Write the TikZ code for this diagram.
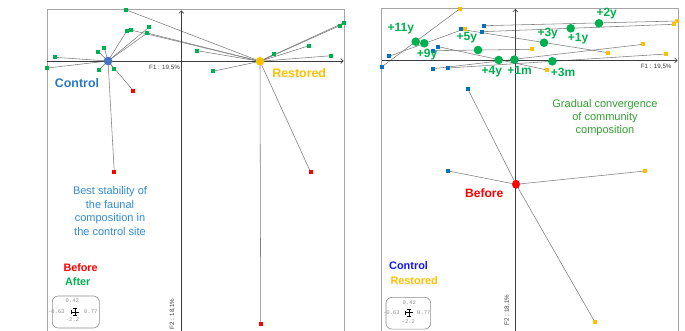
\documentclass[tikz,border=0pt]{standalone}
\usepackage{fontspec}
\setmainfont{Liberation Sans}
\newfontfamily\monofont{Liberation Mono}
\usetikzlibrary{arrows.meta,backgrounds,shapes.geometric}
\definecolor{cgreen}{RGB}{0,176,80}
\definecolor{cred}{RGB}{255,0,0}
\definecolor{cblue}{RGB}{0,112,192}
\definecolor{cyellow}{RGB}{255,192,0}
\definecolor{cctrl}{RGB}{68,114,196}
\definecolor{cctrllab}{RGB}{42,120,200}
\definecolor{cbest}{RGB}{50,140,210}
\definecolor{cgrad}{RGB}{50,160,50}
\definecolor{cpure}{RGB}{20,20,255}
\definecolor{clink}{RGB}{125,125,125}
\definecolor{caxis}{RGB}{60,60,60}
\definecolor{cframe}{RGB}{165,165,165}
\definecolor{cnum}{RGB}{140,140,140}
\begin{document}
\begin{tikzpicture}[x=1pt,y=-1pt,
  sq/.style={rectangle,inner sep=0pt,minimum size=4pt},
  gsq/.style={sq,fill=cgreen},
  rsq/.style={sq,fill=cred},
  bsq/.style={sq,fill=cblue},
  ysq/.style={sq,fill=cyellow},
  gdot/.style={circle,inner sep=0pt,minimum size=8.6pt,fill=cgreen},
  bigdot/.style={circle,inner sep=0pt,minimum size=8.6pt},
  link/.style={draw=clink,line width=0.55pt},
  axisline/.style={draw=caxis,line width=0.8pt},
  axisarrow/.style={axisline,-{Straight Barb[length=2.5pt,width=5pt,line width=0.6pt]}},
  framebox/.style={draw=cframe,line width=0.8pt},
  glab/.style={font=\fontsize{12}{12}\selectfont\bfseries,text=cgreen,inner sep=0pt},
  axlab/.style={font=\fontsize{6.2}{6.2}\selectfont,text=caxis,inner sep=0pt},
  boxnum/.style={font=\monofont\fontsize{5.5}{5.5}\selectfont,text=cnum,inner sep=0pt},
  scalebox/.style={draw=cnum,rounded corners=6pt,line width=0.6pt,inner sep=0pt},
  crossline/.style={draw=black,line width=0.7pt},
  legend/.style={font=\fontsize{10.9}{10.9}\selectfont\bfseries,inner sep=0pt,anchor=west},
]
\useasboundingbox (0,0) rectangle (685,331);
\begin{scope}[on background layer]
  \fill[white] (0,0) rectangle (685,331);
\end{scope}

% frames
\draw[framebox] (47.3,331) -- (47.3,9.7) -- (344.3,9.7) -- (344.3,331);
\draw[framebox] (381.7,331) -- (381.7,8.3) -- (678.3,8.3) -- (678.3,331);

% axes
\coordinate (LaxW) at (47.3,61);
\coordinate (LaxE) at (343.5,61);
\coordinate (LaxS) at (181.3,331);
\coordinate (LaxN) at (181.3,10.5);
\coordinate (RaxW) at (381.7,60.3);
\coordinate (RaxE) at (677.5,60.3);
\coordinate (RaxS) at (515.3,331);
\coordinate (RaxN) at (515.3,9);
\draw[axisarrow] (LaxW) -- (LaxE);
\draw[axisarrow] (LaxS) -- (LaxN);
\draw[axisarrow] (RaxW) -- (RaxE);
\draw[axisarrow] (RaxS) -- (RaxN);

% ===== left panel =====
\node[bigdot,fill=cctrl] (ctrl) at (108,61) {};
\node[bigdot,fill=cyellow] (rest) at (260,61.3) {};
\node[gsq] (c1) at (126.7,31) {};
\node[gsq] (c2) at (149.3,27) {};
\node[gsq] (c3) at (147.3,33) {};
\node[gsq] (c4) at (104.3,47.7) {};
\node[gsq] (c5) at (98.3,51.7) {};
\node[gsq] (c6) at (55,57.3) {};
\node[gsq] (c7) at (47.3,68) {};
\node[gsq] (c8) at (99,69.7) {};
\node[gsq] (c9) at (114,69) {};
\node[rsq] (cb1) at (133.3,90.7) {};
\node[rsq] (cb2) at (114.3,172.3) {};
\node[gsq] (r1) at (125.7,9.7) {};
\node[gsq] (r2) at (130.7,30) {};
\node[gsq] (r4) at (197.3,50.7) {};
\node[gsq] (r5) at (212.7,71.3) {};
\node[gsq] (r6) at (274,54.3) {};
\node[gsq] (r7) at (309,45.7) {};
\node[gsq] (r8) at (331.3,55.7) {};
\node[gsq] (r9) at (339.7,25.7) {};
\node[gsq] (r10) at (343.7,22.7) {};
\node[rsq] (rb1) at (310.7,172.3) {};
\node[rsq] (rb2) at (260.7,323.7) {};

\begin{scope}[on background layer]
  \foreach \p in {c1,c2,c3,c4,c5,c6,c7,c8,c9,cb1,cb2}
    \draw[link] (ctrl.center) -- (\p.center);
  \foreach \p in {r1,r2,c3,r4,r5,r6,r7,r8,r9,r10,rb1,rb2}
    \draw[link] (rest.center) -- (\p.center);
\end{scope}

\node[font=\fontsize{12.4}{12.4}\selectfont\bfseries,text=cctrllab,inner sep=0pt] (lctrl) at (77,82.7) {Control};
\node[font=\fontsize{12.4}{12.4}\selectfont\bfseries,text=cyellow,inner sep=0pt] (lrest) at (299.2,73.3) {Restored};
\node[axlab,anchor=east] (lf1) at (180,67.7) {F1 : 19,5\%};
\node[axlab,rotate=90] (lf2) at (172.3,314) {F2 : 18,1\%};
\node[align=center,font=\fontsize{11}{13.5}\selectfont,text=cbest,inner sep=0pt] (lbest) at (110,211)
  {Best stability of\\the faunal\\composition in\\the control site};
\node[legend,text=cred,font=\fontsize{10.8}{10.8}\selectfont\bfseries] (lbefore) at (63.3,268) {Before};
\node[legend,text=cgreen,font=\fontsize{10.8}{10.8}\selectfont\bfseries] (lafter) at (65,281.3) {After};

\node[scalebox,minimum width=47pt,minimum height=32pt] (sbL) at (75.8,312) {};
\node[boxnum] (sbLt) at (72.3,301) {0.42};
\node[boxnum] (sbLl) at (56.3,312) {-0.63};
\node[boxnum] (sbLr) at (90.8,312) {0.77};
\node[boxnum] (sbLb) at (72.5,320) {-2.2};
\coordinate (crL) at (75,312);
\draw[crossline] ([xshift=-4pt]crL) -- ([xshift=4pt]crL);
\draw[crossline] ([yshift=3.7pt]crL) -- ([yshift=-3.7pt]crL);
\draw[crossline] ([xshift=-4pt,yshift=-1.8pt]crL) -- ([xshift=-4pt,yshift=1.8pt]crL);
\draw[crossline] ([xshift=-1.8pt,yshift=3.7pt]crL) -- ([xshift=1.8pt,yshift=3.7pt]crL);
\draw[crossline] ([xshift=-1.8pt,yshift=-3.7pt]crL) -- ([xshift=1.8pt,yshift=-3.7pt]crL);

% ===== right panel =====
\node[bsq] (b11) at (382,66.7) {};
\node[bsq] (b9) at (389,56.3) {};
\node[bsq] (b3y) at (460.7,29.3) {};
\node[bsq] (b2y) at (483.7,25.7) {};
\node[bsq] (b1y) at (482,31.7) {};
\node[bsq] (b4y) at (438.3,46.7) {};
\node[bsq] (b5y) at (432.7,50.7) {};
\node[bsq] (b1m) at (433.3,68.7) {};
\node[bsq] (b3m) at (448,68) {};
\node[bsq] (bbef1) at (468,89.3) {};
\node[bsq] (bbef2) at (448.3,171) {};
\node[ysq] (y11) at (460,8.6) {};
\node[ysq] (y9) at (465,28.7) {};
\node[ysq] (y5y) at (531.7,49.3) {};
\node[ysq] (y2y) at (677.3,21) {};
\node[ysq] (y1y) at (674,24.3) {};
\node[ysq] (y1m) at (643.3,44.3) {};
\node[ysq] (y3y) at (608,52.7) {};
\node[ysq] (y3m) at (666,54) {};
\node[ysq] (y4y) at (547,70) {};
\node[ysq] (ybef1) at (645,171) {};
\node[ysq] (ybef2) at (595,322.3) {};
\node[gdot] (g11) at (415.7,41.7) {};
\node[gdot] (g9) at (424.3,43.3) {};
\node[gdot] (g5) at (478,50) {};
\node[gdot] (g4) at (498.7,60) {};
\node[gdot] (g1m) at (514.3,59.7) {};
\node[gdot] (g3m) at (552.3,61.3) {};
\node[gdot] (g3y) at (544,42.7) {};
\node[gdot] (g1y) at (570.7,28.3) {};
\node[gdot] (g2y) at (599,23.3) {};
\node[ellipse,inner sep=0pt,minimum width=8pt,minimum height=9pt,fill=cred] (bef) at (516,184.3) {};

\begin{scope}[on background layer]
  \foreach \a/\b in {b11/y11,b9/y9,b3y/y3y,b2y/y2y,b1y/y1y,b4y/y4y,b5y/y5y,b1m/y1m,b3m/y3m}
    \draw[link] (\a.center) -- (\b.center);
  \foreach \p in {bbef1,bbef2,ybef1,ybef2}
    \draw[link] (bef.center) -- (\p.center);
\end{scope}

\node[glab] (l11) at (400.8,29) {+11y};
\node[glab] (l9) at (427,54.3) {+9y};
\node[glab] (l5) at (466.8,37.7) {+5y};
\node[glab] (l4) at (491.8,72) {+4y};
\node[glab] (l1m) at (519.5,70.7) {+1m};
\node[glab] (l2y) at (606.7,13.3) {+2y};
\node[glab] (l1y) at (578,39) {+1y};
\node[glab] (l3y) at (547.7,34) {+3y};
\node[glab] (l3m) at (563,72) {+3m};

\node[font=\fontsize{12.1}{12.1}\selectfont\bfseries,text=cred,inner sep=0pt] (lbef) at (484.2,192.7) {Before};
\node[align=center,font=\fontsize{11}{13.35}\selectfont,text=cgrad,inner sep=0pt] (lgrad) at (605,117.7)
  {Gradual convergence\\of community\\composition};
\node[legend,text=cpure] (lctrl2) at (389,266) {Control};
\node[legend,text=cyellow] (lrest2) at (390.3,280.3) {Restored};
\node[axlab,anchor=east] (rf1) at (671.7,66.3) {F1 : 19,5\%};
\node[axlab,rotate=90] (rf2) at (507,310.3) {F2 : 18,1\%};

\node[scalebox,minimum width=44.7pt,minimum height=31.7pt] (sbR) at (408.3,313.2) {};
\node[boxnum] (sbRt) at (409.3,302.7) {0.42};
\node[boxnum] (sbRl) at (391.3,312.7) {-0.63};
\node[boxnum] (sbRr) at (423.8,312.7) {0.77};
\node[boxnum] (sbRb) at (408.3,321.7) {-2.2};
\coordinate (crR) at (409,312.7);
\draw[crossline] ([xshift=-4pt]crR) -- ([xshift=4pt]crR);
\draw[crossline] ([yshift=3.7pt]crR) -- ([yshift=-3.7pt]crR);
\draw[crossline] ([xshift=-4pt,yshift=-1.8pt]crR) -- ([xshift=-4pt,yshift=1.8pt]crR);
\draw[crossline] ([xshift=-1.8pt,yshift=3.7pt]crR) -- ([xshift=1.8pt,yshift=3.7pt]crR);
\draw[crossline] ([xshift=-1.8pt,yshift=-3.7pt]crR) -- ([xshift=1.8pt,yshift=-3.7pt]crR);
\end{tikzpicture}
\end{document}
